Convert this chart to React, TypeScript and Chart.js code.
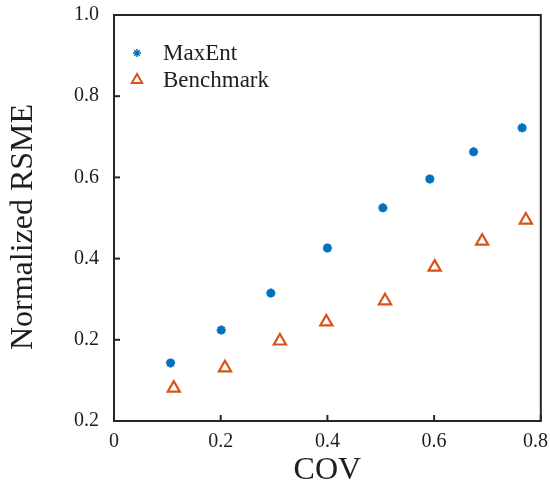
import React, { useEffect, useRef } from "react";
import { Chart, registerables } from "chart.js";

Chart.register(...registerables);

const maxEntCov = [0.106, 0.201, 0.294, 0.4, 0.504, 0.592, 0.674, 0.765];
const maxEntRsme = [0.143, 0.224, 0.315, 0.426, 0.525, 0.596, 0.663, 0.722];
const benchCov = [0.112, 0.208, 0.311, 0.398, 0.508, 0.601, 0.69, 0.772];
const benchRsme = [0.081, 0.131, 0.197, 0.244, 0.296, 0.379, 0.443, 0.495];
const xTickLabels = ["0", "0.2", "0.4", "0.6", "0.8"];
const yTickLabels = ["0.2", "0.2", "0.4", "0.6", "0.8", "1.0"];
const seriesNames = ["MaxEnt", "Benchmark"];
const yTitle = "Normalized RSME";
const xTitle = "COV";

const FONT = "'Liberation Serif', 'Times New Roman', serif";
const AXIS = "#262626";
const TEXT = "#1e1e1e";
const BLUE = "#0072BD";
const ORANGE = "#D95319";

const framePlugin = {
  id: "frame",
  afterDatasetsDraw(chart: any) {
    const { ctx, chartArea: a, scales, width } = chart;
    ctx.save();
    ctx.strokeStyle = AXIS;
    ctx.lineWidth = 2;
    ctx.strokeRect(a.left, a.top, a.right - a.left, a.bottom - a.top);
    // inward ticks
    scales.x.ticks.forEach((t: any) => {
      const px = scales.x.getPixelForValue(t.value);
      ctx.beginPath();
      ctx.moveTo(px, a.bottom);
      ctx.lineTo(px, a.bottom - 6);
      ctx.stroke();
    });
    scales.y.ticks.forEach((t: any) => {
      const py = scales.y.getPixelForValue(t.value);
      ctx.beginPath();
      ctx.moveTo(a.left, py);
      ctx.lineTo(a.left + 6, py);
      ctx.stroke();
    });
    // x tick labels (kept inside the canvas)
    ctx.fillStyle = TEXT;
    ctx.font = `20px ${FONT}`;
    ctx.textBaseline = "middle";
    scales.x.ticks.forEach((t: any, i: number) => {
      const px = scales.x.getPixelForValue(t.value);
      const label = xTickLabels[i];
      const w = ctx.measureText(label).width;
      let left = px - w / 2;
      if (left + w > width - 2) left = width - 2 - w;
      ctx.textAlign = "left";
      ctx.fillText(label, left, a.bottom + 21);
    });
    // y title
    ctx.save();
    ctx.translate(24, (a.top + a.bottom) / 2 + 9);
    ctx.rotate(-Math.PI / 2);
    ctx.textAlign = "center";
    ctx.textBaseline = "middle";
    ctx.font = `32px ${FONT}`;
    ctx.fillText(yTitle, 0, 0);
    ctx.restore();
    // legend
    const ds = chart.data.datasets;
    ds.forEach((d: any, i: number) => {
      const y = a.top + 38 + i * 27;
      const x = a.left + 23;
      ctx.strokeStyle = d.borderColor;
      ctx.lineWidth = i === 0 ? 1.5 : 2;
      if (i === 0) {
        ctx.beginPath();
        for (let k = 0; k < 4; k++) {
          const ang = (Math.PI / 4) * k;
          ctx.moveTo(x - Math.cos(ang) * 4, y - Math.sin(ang) * 4);
          ctx.lineTo(x + Math.cos(ang) * 4, y + Math.sin(ang) * 4);
        }
        ctx.stroke();
      } else {
        ctx.beginPath();
        const r = 6;
        ctx.moveTo(x, y - r);
        ctx.lineTo(x + r * 0.866, y + r * 0.5);
        ctx.lineTo(x - r * 0.866, y + r * 0.5);
        ctx.closePath();
        ctx.stroke();
      }
      ctx.fillStyle = TEXT;
      ctx.font = `23px ${FONT}`;
      ctx.textBaseline = "middle";
      ctx.textAlign = "left";
      ctx.fillText(d.label, a.left + 49, y + 1);
    });
    ctx.restore();
  },
};

export default function App() {
  const ref = useRef<HTMLCanvasElement>(null);
  useEffect(() => {
    if (!ref.current) return;
    const chart = new Chart(ref.current, {
      type: "scatter",
      data: {
        datasets: [
          {
            label: seriesNames[0],
            data: maxEntCov.map((x, i) => ({ x, y: maxEntRsme[i] })),
            pointStyle: "star",
            pointRadius: 4.5,
            borderWidth: 2.8,
            borderColor: BLUE,
            backgroundColor: BLUE,
          },
          {
            label: seriesNames[1],
            data: benchCov.map((x, i) => ({ x, y: benchRsme[i] })),
            pointStyle: "triangle",
            pointRadius: 7,
            borderWidth: 2.2,
            borderColor: ORANGE,
            backgroundColor: "rgba(0,0,0,0)",
          },
        ],
      },
      options: {
        animation: false,
        responsive: true,
        maintainAspectRatio: false,
        layout: { padding: { left: 0, right: 6, top: 15, bottom: 0 } },
        plugins: { legend: { display: false }, tooltip: { enabled: false } },
        scales: {
          x: {
            type: "linear",
            min: 0,
            max: 0.8,
            afterFit: (s: any) => {
              s.height = 66;
              s.paddingLeft = 0;
              s.paddingRight = 0;
            },
            grid: { display: false, drawTicks: false },
            border: { display: false },
            ticks: {
              stepSize: 0.2,
              display: false,
            },
            title: {
              display: true,
              text: xTitle,
              color: TEXT,
              font: { family: FONT, size: 32, lineHeight: 1 },
              padding: { top: 0, bottom: 0 },
            },
          },
          y: {
            type: "linear",
            min: 0,
            max: 1,
            afterFit: (s: any) => {
              s.width = 114;
              s.paddingTop = 0;
              s.paddingBottom = 0;
            },
            grid: { display: false, drawTicks: false },
            border: { display: false },
            ticks: {
              stepSize: 0.2,
              padding: 15,
              color: TEXT,
              font: { family: FONT, size: 20 },
              callback: (_v: any, i: number) => yTickLabels[i],
            },
            title: { display: false },
          },
        },
      },
      plugins: [framePlugin],
    });
    return () => chart.destroy();
  }, []);
  return (
    <div style={{ position: "fixed", left: 0, top: 0, width: 550, height: 487, background: "#fff" }}>
      <canvas ref={ref} />
    </div>
  );
}
